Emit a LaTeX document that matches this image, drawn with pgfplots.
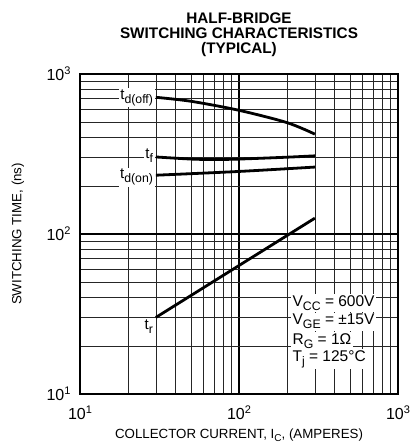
\documentclass[border=0pt]{standalone}
\usepackage{pgfplots}
\pgfplotsset{compat=1.18}
\usepackage{fontspec}
\setmainfont{Liberation Sans}
\newcommand\sub[2]{\raisebox{-#1}{\fontsize{12.3}{12}\selectfont #2}}
\newcommand\sups[1]{\raisebox{6pt}{\fontsize{11}{12}\selectfont #1}}
\begin{document}
\begin{tikzpicture}
\begin{axis}[
  at={(0,0)}, anchor=south west,
  scale only axis, width=318pt, height=320pt,
  xmode=log, ymode=log,
  xmin=10, xmax=1000, ymin=10, ymax=1000,
  xtick={10,100,1000}, ytick={10,100,1000},
  xticklabels={10\sups{1},10\sups{2},10\sups{3}},
  yticklabels={10\sups{1},10\sups{2},10\sups{3}},
  grid=both,
  major grid style={black, line width=1.1pt},
  minor grid style={black!85, line width=0.6pt},
  major tick length=0pt, minor tick length=0pt,
  axis line style={line width=1.4pt},
  tick label style={font=\fontsize{16}{18}\selectfont},
  xticklabel style={yshift=-8pt},
  yticklabel style={xshift=-6pt},
  xlabel={COLLECTOR CURRENT, I\raisebox{-3pt}{\fontsize{10}{10}\selectfont C}, (AMPERES)},
  ylabel={SWITCHING TIME, (ns)},
  label style={font=\fontsize{13.3}{15}\selectfont},
  xlabel style={at={(axis description cs:0.5,-0.128)}, anchor=center},
  ylabel style={at={(axis description cs:-0.195,0.5)}, anchor=center},
  title={HALF-BRIDGE\\SWITCHING CHARACTERISTICS\\(TYPICAL)},
  title style={font=\bfseries\fontsize{15.3}{14.8}\selectfont, align=center,
    at={(axis description cs:0.5,1.103)}, anchor=center},
]
\addplot[black, line width=2.8pt, smooth] coordinates {(30,715) (50,675) (100,593) (200,497) (300,421)};
\addplot[black, line width=2.8pt, smooth] coordinates {(30,303) (50,294) (70,292) (100,294) (200,302) (300,308)};
\addplot[black, line width=2.8pt, smooth] coordinates {(30,233) (100,246) (300,262)};
\addplot[black, line width=2.8pt] coordinates {(30,30.1) (300,125.6)};
\node[fill=white, inner sep=1.5pt, font=\fontsize{15}{17}\selectfont, anchor=east] at (axis cs:29.5,712) {t\sub{4pt}{d(off)}};
\node[fill=white, inner sep=1.5pt, font=\fontsize{15}{17}\selectfont, anchor=east] at (axis cs:29.5,308) {t\sub{4pt}{f}};
\node[fill=white, inner sep=1.5pt, font=\fontsize{15}{17}\selectfont, anchor=east] at (axis cs:29.5,226) {t\sub{4pt}{d(on)}};
\node[fill=white, inner sep=1.5pt, font=\fontsize{15}{17}\selectfont, anchor=east] at (axis cs:29.5,26.2) {t\sub{4pt}{r}};
\node[fill=white, inner sep=1.5pt, font=\fontsize{15.5}{17}\selectfont, anchor=west] at (axis cs:212,37.2) {V\sub{4pt}{CC} = 600V};
\node[fill=white, inner sep=1.5pt, font=\fontsize{15.5}{17}\selectfont, anchor=west] at (axis cs:212,28.3) {V\sub{4pt}{GE} = ±15V};
\node[fill=white, inner sep=1.5pt, font=\fontsize{15.5}{17}\selectfont, anchor=west] at (axis cs:212,21.5) {R\sub{4pt}{G} = 1Ω};
\node[fill=white, inner sep=1.5pt, font=\fontsize{15.5}{17}\selectfont, anchor=west] at (axis cs:212,16.5) {T\sub{4pt}{j} = 125°C};
\end{axis}
\pgfresetboundingbox
\path (-80pt,-50pt) rectangle (334pt,394pt);
\end{tikzpicture}
\end{document}
